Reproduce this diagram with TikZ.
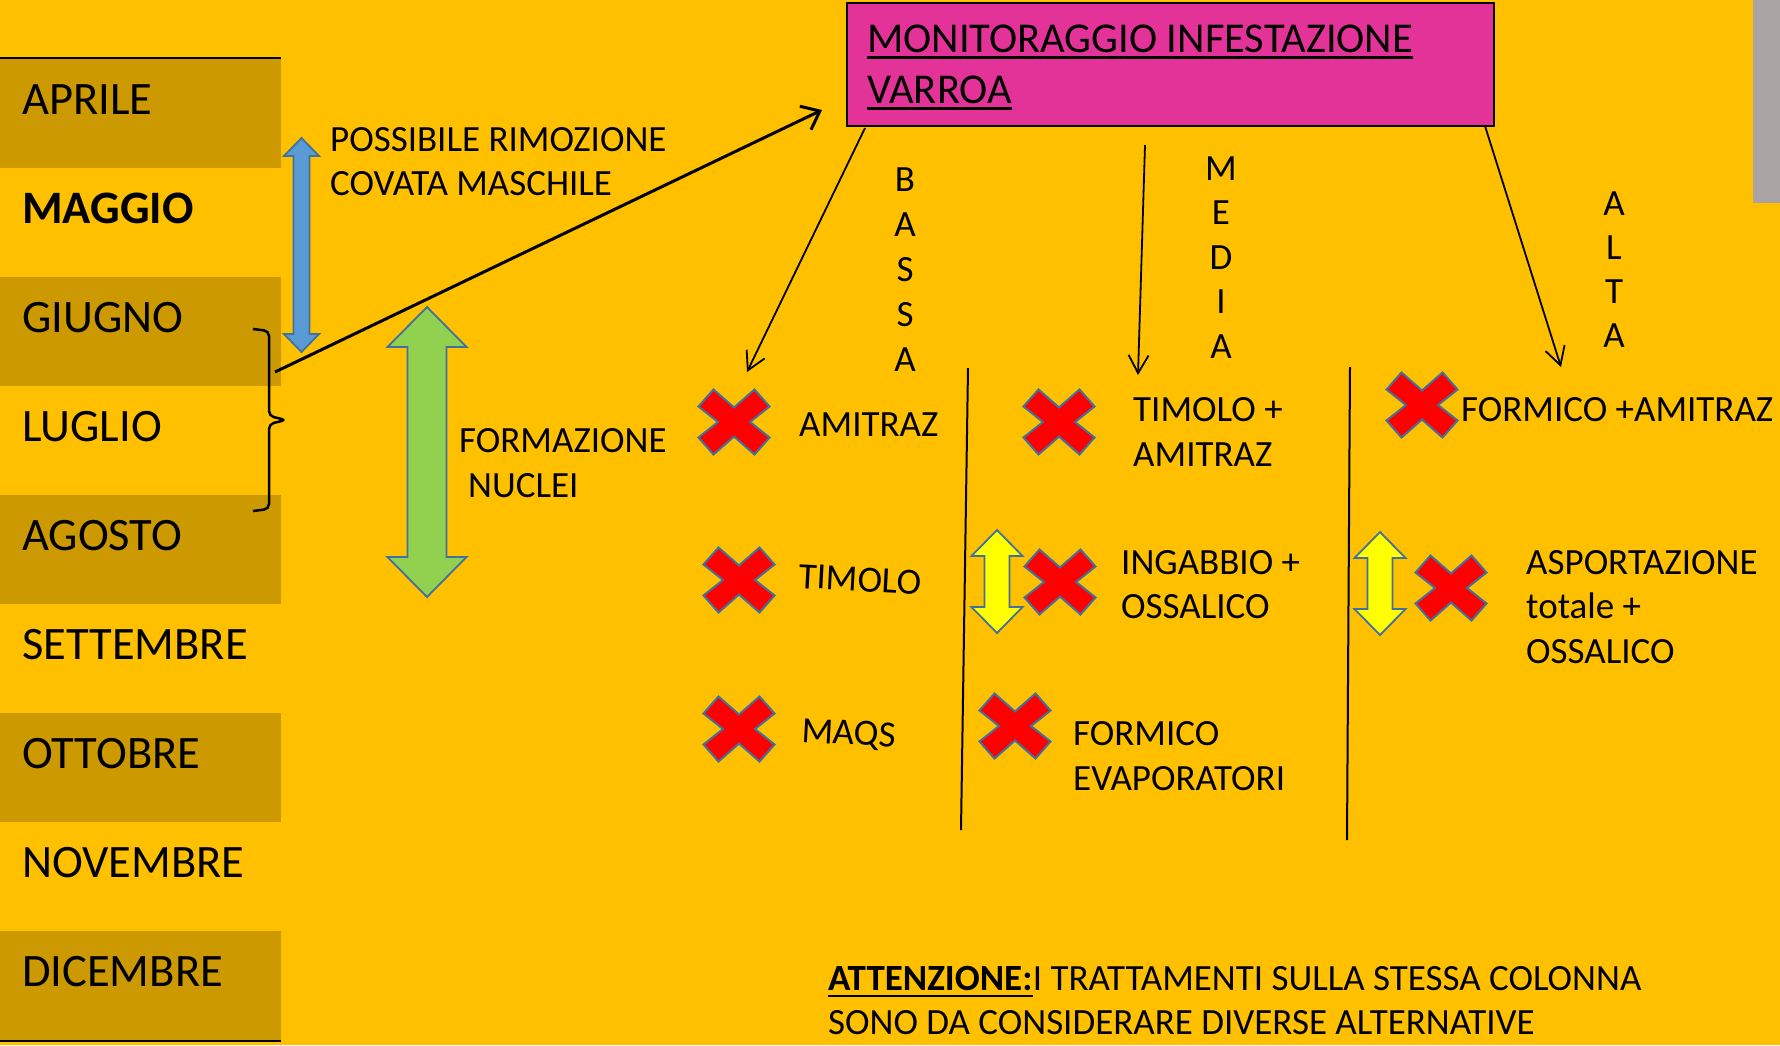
\documentclass[tikz,border=0pt]{standalone}
\usepackage{fontspec}
\setmainfont{Carlito}
\usetikzlibrary{arrows.meta}
\definecolor{bg}{HTML}{FFC000}
\definecolor{darkgold}{HTML}{CC9900}
\definecolor{magbox}{HTML}{E33399}
\definecolor{outl}{HTML}{41719C}
\definecolor{bluearr}{HTML}{5B9BD5}
\definecolor{greenarr}{HTML}{92D050}
\definecolor{yelarr}{HTML}{FFFF00}
\definecolor{grayst}{HTML}{A9A3A3}
\newcommand{\redx}[2]{%
  \draw[xshape,shift={(#1,#2)}] (-35.5,-15.5) -- (-20.5,-32.5) -- (0,-14.5) -- (20.5,-32.5) -- (35.5,-15.5) -- (16,0)
    -- (35.5,15.5) -- (20.5,32.5) -- (0,14.5) -- (-20.5,32.5) -- (-35.5,15.5) -- (-16,0) -- cycle;}
\newcommand{\dblarr}[7]{%
  \draw[dblshape,fill=#7] (#1,#2) -- ({#1+#5},{#2+#4}) -- ({#1+#6},{#2+#4}) -- ({#1+#6},{#3-#4}) -- ({#1+#5},{#3-#4})
    -- (#1,#3) -- ({#1-#5},{#3-#4}) -- ({#1-#6},{#3-#4}) -- ({#1-#6},{#2+#4}) -- ({#1-#5},{#2+#4}) -- cycle;}
\begin{document}
\begin{tikzpicture}[x=1pt,y=-1pt,
  month/.style={anchor=base west,inner sep=0pt,font=\fontsize{46.5}{55}\selectfont},
  body/.style={anchor=base west,inner sep=0pt,font=\fontsize{37}{44}\selectfont},
  vlet/.style={anchor=base,inner sep=0pt,font=\fontsize{37}{44}\selectfont},
  ttl/.style={anchor=base west,inner sep=0pt,font=\fontsize{42.5}{51}\selectfont},
  xshape/.style={fill=red,draw=outl,line width=2pt,line join=miter},
  dblshape/.style={draw=outl,line width=1.8pt,line join=miter},
  thinarr/.style={line width=1.8pt,-{Straight Barb[length=18pt,width=20pt]}},
  thickarr/.style={line width=3pt,-{Straight Barb[length=16pt,width=26pt]}},
  divider/.style={line width=2pt},
  uline/.style={line width=2.2pt}
  ]
\useasboundingbox (0,0) rectangle (1780,1045);
\fill[bg] (0,0) rectangle (1780,1045);
\fill[grayst] (1753,0) rectangle (1780,203);

% month column
\foreach \k in {0,2,4,6,8}
  \fill[darkgold] (0,{59+109*\k}) rectangle (281,{168+109*\k});
\draw[line width=2.5pt] (0,58) -- (281,58);
\draw[line width=2.5pt] (0,1041) -- (281,1041);
\node[month] (apr) at (22,114) {APRILE};
\node[month,font=\fontsize{46.5}{55}\selectfont\bfseries] (mag) at (22,223) {MAGGIO};
\node[month] (giu) at (22,332) {GIUGNO};
\node[month] (lug) at (22,441) {LUGLIO};
\node[month] (ago) at (22,550) {AGOSTO};
\node[month] (set) at (22,659) {SETTEMBRE};
\node[month] (ott) at (22,768) {OTTOBRE};
\node[month] (nov) at (22,877) {NOVEMBRE};
\node[month] (dic) at (22,986) {DICEMBRE};

% brace
\draw[line width=2.5pt,rounded corners=5pt] (253,329) -- (269,331) -- (269,416) -- (286,420) -- (269,424) -- (269,509) -- (253,511);

% double arrows
\dblarr{301.5}{138}{352}{18}{17.5}{8}{bluearr}
\dblarr{427}{307}{597}{40}{39.5}{19.5}{greenarr}
\dblarr{997}{530}{633}{26}{25.5}{12.5}{yelarr}
\dblarr{1380}{532}{635}{26}{25.5}{12.5}{yelarr}

\node[body] (pos1) at (330,151) {POSSIBILE RIMOZIONE};
\node[body] (pos2) at (330,195) {COVATA MASCHILE};
\node[body] (for1) at (459,452) {FORMAZIONE};
\node[body] (for2) at (468,497) {NUCLEI};

% title box
\node[draw,line width=2pt,fill=magbox,minimum width=647pt,minimum height=123pt,anchor=north west,inner sep=0pt] (title) at (846,2) {};
\node[ttl] (ttl1) at (867,52) {MONITORAGGIO INFESTAZIONE};
\node[ttl] (ttl2) at (867,103) {VARROA};
\draw[uline] ([yshift=-5.5pt]ttl1.base west) -- ([yshift=-5.5pt]ttl1.base east);
\draw[uline] ([yshift=-5.5pt]ttl2.base west) -- ([yshift=-5.5pt]ttl2.base east);

% connectors
\coordinate (thS) at (275,372);
\coordinate (thE) at (822,110);
\draw[thickarr] (thS) -- (thE);
\coordinate (bS) at (865,128);
\coordinate (bE) at (747,372);
\coordinate (mS) at (1145,145);
\coordinate (mE) at (1138,375);
\coordinate (aS) at (1485,126);
\coordinate (aE) at (1561,367);
\draw[thinarr] (bS) -- (bE);
\draw[thinarr] (mS) -- (mE);
\draw[thinarr] (aS) -- (aE);

% vertical labels
\foreach \l [count=\i from 0] in {B,A,S,S,A}
  \node[vlet] (bassa\i) at (905,{191+45*\i}) {\l};
\foreach \l [count=\i from 0] in {M,E,D,I,A}
  \node[vlet] (media\i) at (1221,{180+44.5*\i}) {\l};
\foreach \l [count=\i from 0] in {A,L,T,A}
  \node[vlet] (alta\i) at (1614,{215+44.3*\i}) {\l};

% dividers
\draw[divider] (968,368) -- (961,830);
\draw[divider] (1350,367) -- (1347,840);

% red crosses
\redx{734}{422}
\redx{739}{580}
\redx{739}{729}
\redx{1059}{422}
\redx{1060}{582}
\redx{1015}{726}
\redx{1422}{405}
\redx{1451}{588}

% treatments
\node[body] (b1) at (799,436) {AMITRAZ};
\node[body,rotate=-3] (b2) at (798,588) {TIMOLO};
\node[body,rotate=-3] (b3) at (801,742) {MAQS};
\node[body] (m1a) at (1133,421) {TIMOLO +};
\node[body] (m1b) at (1133,466) {AMITRAZ};
\node[body] (m2a) at (1121,574) {INGABBIO +};
\node[body] (m2b) at (1121,618) {OSSALICO};
\node[body] (m3a) at (1073,745) {FORMICO};
\node[body] (m3b) at (1073,790) {EVAPORATORI};
\node[body] (a1) at (1461,421) {FORMICO +AMITRAZ};
\node[body] (a2a) at (1526,574) {ASPORTAZIONE};
\node[body] (a2b) at (1526,618) {totale +};
\node[body] (a2c) at (1526,663) {OSSALICO};

% note
\node[body,font=\fontsize{37}{44}\selectfont\bfseries] (att1) at (828,990) {ATTENZIONE:};
\node[body] (att2) at (att1.base east) {I TRATTAMENTI SULLA STESSA COLONNA};
\node[body] (att3) at (828,1034) {SONO DA CONSIDERARE DIVERSE ALTERNATIVE};
\draw[line width=2.8pt] ([yshift=-6pt]att1.base west) -- ([yshift=-6pt]att1.base east);
\end{tikzpicture}
\end{document}
